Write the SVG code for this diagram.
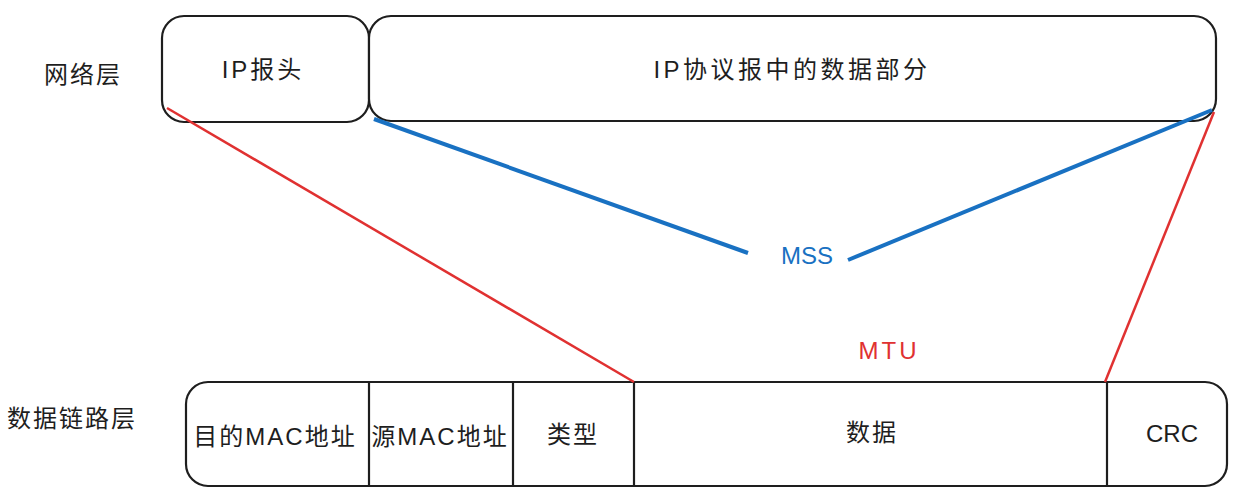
<svg xmlns="http://www.w3.org/2000/svg" width="1239" height="504" viewBox="0 0 1239 504">
<style>
.box{fill:#fff;stroke:#1e1e1e;stroke-width:2.2}
.div{stroke:#1e1e1e;stroke-width:2.2}
.t{font-family:"Liberation Sans","Noto Sans CJK SC",sans-serif;font-size:24px;letter-spacing:2px;fill:#1e1e1e;text-anchor:middle;dominant-baseline:central}
.red{stroke:#e03131;stroke-width:2.5;fill:none}
.blue{stroke:#1971c2;stroke-width:4;fill:none}
</style>
<rect width="1239" height="504" fill="#fff"/>
<g id="label-network"><text class="t" x="83" y="74">网络层</text></g>
<g id="label-datalink"><text class="t" x="72" y="418">数据链路层</text></g>
<g id="ip-header">
<rect class="box" x="162" y="16" width="207" height="106" rx="22"/>
<text class="t" x="263" y="69" style="letter-spacing:3px">IP报头</text>
</g>
<g id="ip-data">
<rect class="box" x="369" y="16" width="847" height="105" rx="22"/>
<text class="t" x="792" y="69" style="letter-spacing:3.5px">IP协议报中的数据部分</text>
</g>
<g id="frame">
<rect class="box" x="186" y="382" width="1041" height="104" rx="22"/>
<line class="div" x1="369" y1="382" x2="369" y2="486"/>
<line class="div" x1="513" y1="382" x2="513" y2="486"/>
<line class="div" x1="634" y1="382" x2="634" y2="486"/>
<line class="div" x1="1107" y1="382" x2="1107" y2="486"/>
</g>
<g id="dst-mac"><text class="t" x="275" y="436">目的MAC地址</text></g>
<g id="src-mac"><text class="t" x="440" y="436">源MAC地址</text></g>
<g id="type"><text class="t" x="573" y="434">类型</text></g>
<g id="data"><text class="t" x="872" y="432">数据</text></g>
<g id="crc"><text class="t" x="1172" y="433" style="letter-spacing:0">CRC</text></g>
<g id="connectors">
<line class="red" x1="167" y1="108" x2="634" y2="382"/>
<line class="red" x1="1214" y1="112" x2="1105" y2="382"/>
<line class="blue" x1="374" y1="119" x2="748" y2="253"/>
<line class="blue" x1="848" y1="260" x2="1212" y2="110"/>
</g>
<g id="mss"><text class="t" x="807" y="255" style="fill:#1971c2;letter-spacing:0">MSS</text></g>
<g id="mtu"><text class="t" x="889" y="350" style="fill:#e03131;letter-spacing:3px">MTU</text></g>
</svg>
